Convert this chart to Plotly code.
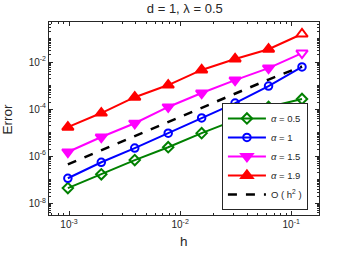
import plotly.graph_objects as go

h = [2**-10, 2**-9, 2**-8, 2**-7, 2**-6, 2**-5, 2**-4, 2**-3]
err_05 = [4.4e-8, 1.7e-7, 6.8e-7, 2.4e-6, 9.5e-6, 3.4e-5, 1.23e-4, 2.7e-4]
err_10 = [1.15e-7, 5.5e-7, 2.2e-6, 9.5e-6, 4.2e-5, 1.8e-4, 9.5e-4, 6.2e-3]
err_15 = [1.5e-6, 6.5e-6, 2.5e-5, 1.23e-4, 4.8e-4, 1.7e-3, 5.5e-3, 2.4e-2]
err_19 = [1.7e-5, 6.8e-5, 3.2e-4, 1.05e-3, 4.6e-3, 1.35e-2, 3.5e-2, 1.55e-1]
ref_h2 = [4.5e-7, 1.8e-6, 7.2e-6, 2.9e-5, 1.15e-4, 4.6e-4, 1.8e-3, 6.5e-3]

series = [
    ("<i>α</i> = 0.5", err_05, "#008000", "diamond-open", 8, False),
    ("<i>α</i> = 1", err_10, "#0000FF", "circle-open", 7.5, False),
    ("<i>α</i> = 1.5", err_15, "#FF00FF", "triangle-down", 10, True),
    ("<i>α</i> = 1.9", err_19, "#FF0000", "triangle-up", 10, True),
]

fig = go.Figure()
for name, ys, col, sym, sz, last_open in series:
    n = len(ys)
    fills = [col] * n
    if last_open:
        fills[-1] = "white"
    fig.add_trace(go.Scatter(
        x=h, y=ys, name=name, mode="lines+markers",
        line=dict(color=col, width=2),
        marker=dict(symbol=sym, size=sz, color=fills, line=dict(color=col, width=2)),
    ))
fig.add_trace(go.Scatter(
    x=h, y=ref_h2, name="O ( h<sup>2</sup> )", mode="lines",
    line=dict(color="black", width=2.5, dash="dash"),
))

def minors(lo, hi):
    out = []
    for d in range(lo, hi):
        for m in range(2, 10):
            out.append(m * 10.0**d)
    return out

font = dict(family="Liberation Sans, Arial, sans-serif", color="#262626")
xt = [1e-3, 1e-2, 1e-1]
yt = [1e-8, 1e-6, 1e-4, 1e-2]
fig.update_layout(
    width=352, height=254,
    margin=dict(l=49, r=33, t=22, b=39, autoexpand=False),
    paper_bgcolor="white", plot_bgcolor="white",
    font=dict(size=10, **font),
    title=dict(text="d = 1, λ = 0.5", x=0.525, xanchor="center", y=0.985, yanchor="top",
               font=dict(size=13, **font)),
    showlegend=True,
    legend=dict(x=0.959, xanchor="right", y=0.026, yanchor="bottom",
                bordercolor="#262626", borderwidth=1, bgcolor="white",
                font=dict(size=9.5, **font), tracegroupgap=0,
                itemwidth=38),
    xaxis=dict(type="log", range=[-3.18, -0.75], automargin=False,
               tickvals=xt, ticktext=["10<sup>-3</sup>", "10<sup>-2</sup>", "10<sup>-1</sup>"],
               ticks="inside", ticklen=4, tickcolor="#262626",
               showline=True, linecolor="#262626", linewidth=1, mirror="ticks",
               showgrid=False, zeroline=False,
               minor=dict(tickvals=minors(-4, 0), ticks="inside", ticklen=2, tickcolor="#262626"),
               tickfont=dict(size=10, **font)),
    yaxis=dict(type="log", range=[-8.5, -0.3], automargin=False,
               tickvals=yt, ticktext=["10<sup>-8</sup>", "10<sup>-6</sup>", "10<sup>-4</sup>", "10<sup>-2</sup>"],
               ticks="inside", ticklen=4, tickcolor="#262626",
               showline=True, linecolor="#262626", linewidth=1, mirror="ticks",
               showgrid=False, zeroline=False,
               minor=dict(tickvals=[10.0**k for k in range(-9, 1)] + minors(-9, 0), ticks="inside", ticklen=2, tickcolor="#262626"),
               tickfont=dict(size=10, **font)),
    annotations=[
        dict(text="h", x=0.5, xref="paper", y=-0.09, yref="paper", xanchor="center", yanchor="top",
             showarrow=False, font=dict(size=13.5, **font)),
        dict(text="Error", x=-0.152, xref="paper", y=0.5, yref="paper", xanchor="center", yanchor="middle",
             textangle=-90, showarrow=False, font=dict(size=13.5, **font)),
    ],
)
fig.write_html("out.html", config={"displayModeBar": False},
               post_script="document.body.style.margin='0';document.body.style.overflow='hidden';")
